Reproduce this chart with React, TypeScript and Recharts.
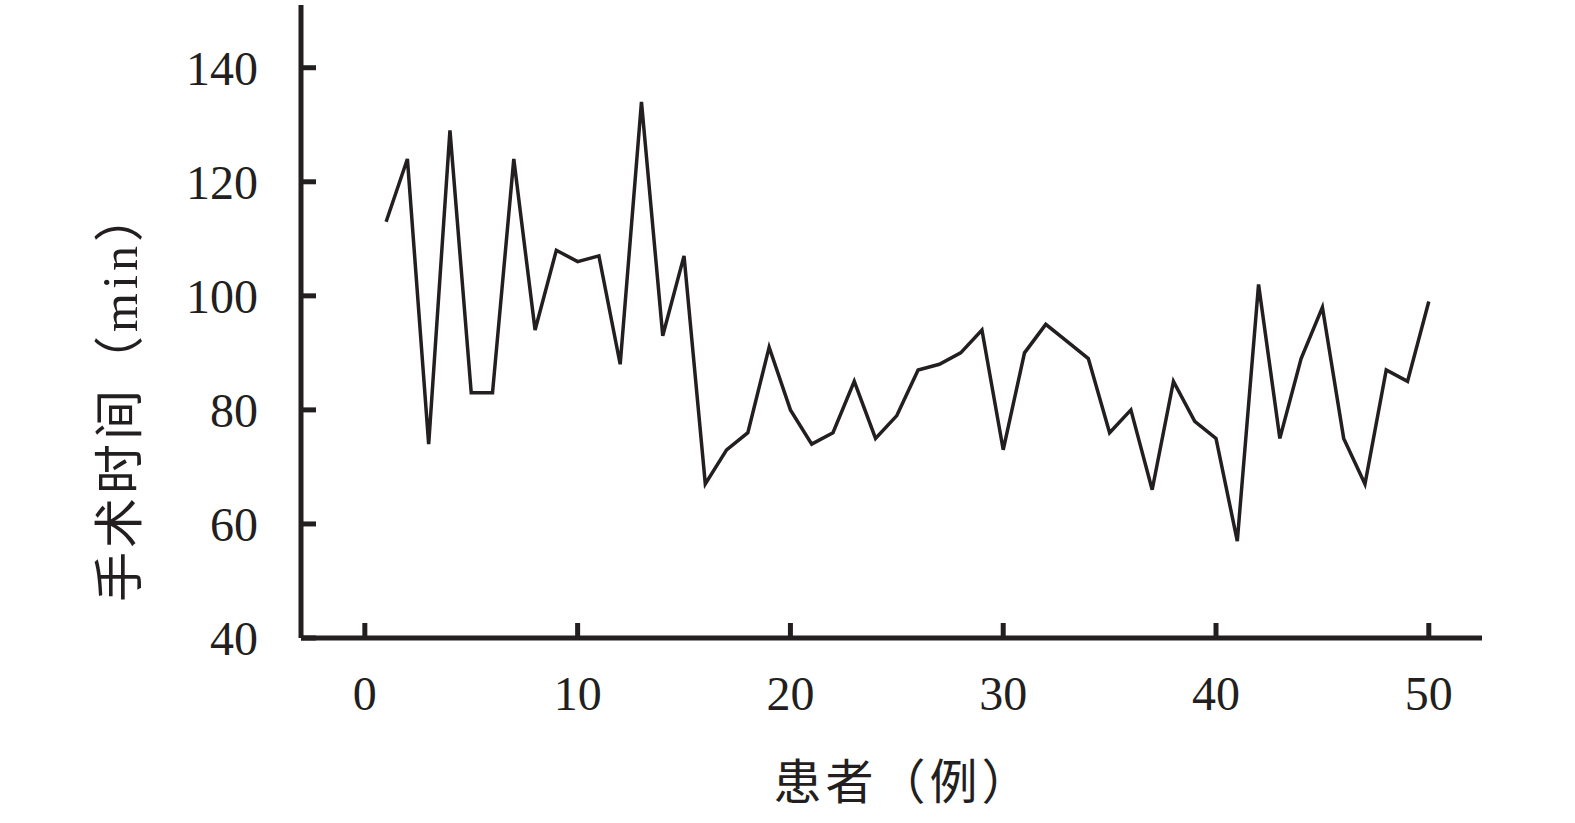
import React from "react";
import { LineChart, Line, XAxis, YAxis } from "recharts";

// patient index and operation time (min)
const patients = [
  1, 2, 3, 4, 5, 6, 7, 8, 9, 10, 11, 12, 13, 14, 15, 16, 17, 18, 19, 20, 21, 22, 23, 24, 25,
  26, 27, 28, 29, 30, 31, 32, 33, 34, 35, 36, 37, 38, 39, 40, 41, 42, 43, 44, 45, 46, 47, 48, 49, 50,
];
const opTimes = [
  113, 124, 74, 129, 83, 83, 124, 94, 108, 106, 107, 88, 134, 93, 107, 67, 73, 76, 91, 80, 74, 76, 85, 75, 79,
  87, 88, 90, 94, 73, 90, 95, 92, 89, 76, 80, 66, 85, 78, 75, 57, 102, 75, 89, 98, 75, 67, 87, 85, 99,
];
const xTicks = [0, 10, 20, 30, 40, 50];
const yTicks = [40, 60, 80, 100, 120, 140];

const ink = "#231f20";
const numFont = '"Liberation Serif", "DejaVu Serif", serif';
const cjkFont = '"Liberation Serif", "Noto Sans CJK SC", sans-serif';

const chartData = patients.map((p, i) => ({ patient: p, time: opTimes[i] }));

// ticks point inward, so draw tick mark + label together
const BottomTick = ({ x, y, payload }: any) => (
  <g>
    <line x1={x} x2={x} y1={y} y2={y - 15} stroke={ink} strokeWidth={5} />
    <text x={x} y={y + 72} textAnchor="middle" fill={ink} style={{ fontFamily: numFont, fontSize: 48 }}>
      {payload.value}
    </text>
  </g>
);

const LeftTick = ({ x, y, payload }: any) => (
  <g>
    <line x1={x} x2={x + 15} y1={y} y2={y} stroke={ink} strokeWidth={5} />
    <text x={x - 43} y={y} dy="0.355em" textAnchor="end" fill={ink} style={{ fontFamily: numFont, fontSize: 48 }}>
      {payload.value}
    </text>
  </g>
);

const YLabel = ({ viewBox }: any) => {
  const cx = viewBox.x + 120;
  const cy = viewBox.y + 390;
  return (
    <text
      x={cx}
      y={cy}
      transform={`rotate(-90 ${cx} ${cy})`}
      textAnchor="middle"
      dominantBaseline="central"
      fill={ink}
      style={{ fontFamily: cjkFont, fontSize: 50, letterSpacing: 4 }}
    >
      手术时间（min）
    </text>
  );
};

const XLabel = ({ viewBox }: any) => {
  const cx = viewBox.x + viewBox.width / 2 + 12;
  const cy = viewBox.y + 144;
  return (
    <text
      x={cx}
      y={cy}
      textAnchor="middle"
      dominantBaseline="central"
      fill={ink}
      style={{ fontFamily: cjkFont, fontSize: 48, letterSpacing: 4 }}
    >
      患者（例）
    </text>
  );
};

export default function App() {
  return (
    <div style={{ position: "absolute", left: 0, top: 0, background: "#fff" }}>
      <LineChart
        width={1575}
        height={823}
        data={chartData}
        margin={{ top: 5, right: 93, bottom: 0, left: 0 }}
      >
        <XAxis
          dataKey="patient"
          type="number"
          domain={[-3, 52.5]}
          ticks={xTicks}
          allowDataOverflow
          height={185}
          axisLine={{ stroke: ink, strokeWidth: 5 }}
          tickLine={false}
          tickSize={0}
          tickMargin={0}
          tick={<BottomTick />}
          label={<XLabel />}
        />
        <YAxis
          type="number"
          domain={[40, 151]}
          ticks={yTicks}
          allowDataOverflow
          width={301}
          axisLine={{ stroke: ink, strokeWidth: 5 }}
          tickLine={false}
          tickSize={0}
          tickMargin={0}
          tick={<LeftTick />}
          label={<YLabel />}
        />
        <Line
          type="linear"
          dataKey="time"
          stroke={ink}
          strokeWidth={3.5}
          dot={false}
          activeDot={false}
          isAnimationActive={false}
        />
      </LineChart>
    </div>
  );
}
